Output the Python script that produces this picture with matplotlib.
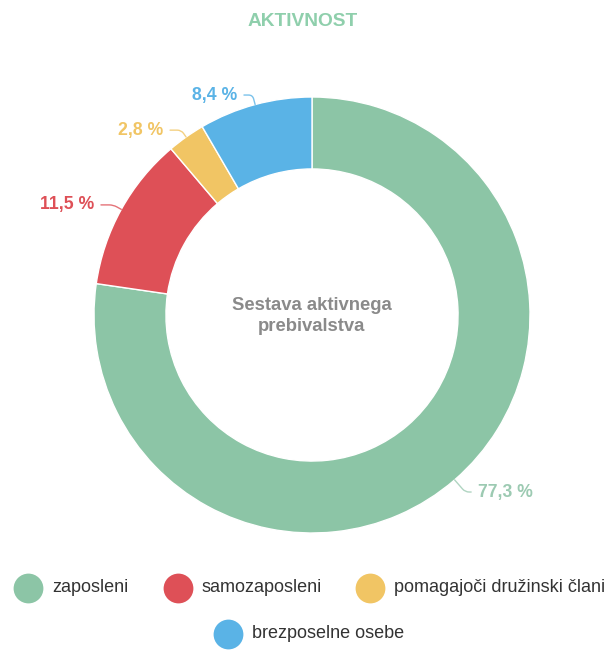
"""
Donut chart: sestava aktivnega prebivalstva
"""

import matplotlib
matplotlib.use("Agg")
import numpy as np
import matplotlib.pyplot as plt

plt.rcParams['font.family'] = ['Liberation Sans', 'DejaVu Sans']

# data
categories = ['zaposleni', 'samozaposleni', 'pomagajoči družinski člani', 'brezposelne osebe']
shares = [77.3, 11.5, 2.8, 8.4]
colors = ['#8cc5a6', '#de5057', '#f1c564', '#5ab3e6']
label_colors = ['#9ccab2', '#de5057', '#f1c564', '#5ab3e6']

W, H = 606, 652
cx, cy, R = 312, 315, 218

fig = plt.figure(figsize=(W / 100, H / 100), dpi=100)
ax = fig.add_axes([(cx - R) / W, (H - cy - R) / H, 2 * R / W, 2 * R / H])
wedges, _ = ax.pie(shares, colors=colors, startangle=90, counterclock=False,
                   radius=1.0, wedgeprops=dict(width=0.33, edgecolor='white', linewidth=1))
ax.set_xlim(-1, 1)
ax.set_ylim(-1, 1)
ax.axis('off')

# percentage labels, positions in data units (1 = outer radius)
label_xy = [(0.762, -0.812), (-1.0, 0.505), (-0.683, 0.848), (-0.344, 1.009)]
label_ha = ['left', 'right', 'right', 'right']
for w, val, (tx, ty), ha, lc in zip(wedges, shares, label_xy, label_ha, label_colors):
    ang = np.deg2rad((w.theta1 + w.theta2) / 2)
    px, py = np.cos(ang), np.sin(ang)
    txt = f"{val:.1f} %".replace('.', ',')
    ax.annotate(txt, xy=(px, py), xytext=(tx, ty), ha=ha, va='center',
                fontsize=12.7, fontweight='bold', color=lc,
                arrowprops=dict(arrowstyle='-', color=lc, lw=1, alpha=0.8,
                                shrinkA=3, shrinkB=0,
                                connectionstyle=f"angle,angleA=0,angleB={np.rad2deg(ang):.0f},rad=4"))

ax.text(0, -0.005, 'Sestava aktivnega\nprebivalstva', ha='center', va='center',
        fontsize=13.3, fontweight='bold', color='#8a8a8a', linespacing=1.3)

fig.text(0.5, 1 - 22 / H, 'AKTIVNOST', ha='center', va='center',
         fontsize=13.8, fontweight='bold', color='#8fcfac')

# legend drawn in pixel space
lg = fig.add_axes([0, 0, 1, 1])
lg.set_xlim(0, W)
lg.set_ylim(H, 0)
lg.axis('off')
lg.patch.set_alpha(0)
leg_x = [28, 178, 370, 228]
leg_y = [588, 588, 588, 634]
for x, y, c, name in zip(leg_x, leg_y, colors, categories):
    lg.scatter([x], [y], s=460, color=c, linewidths=0)
    lg.text(x + 24, y, name, ha='left', va='center', fontsize=13, color='#333333')

fig.savefig('out.png', dpi=100)
